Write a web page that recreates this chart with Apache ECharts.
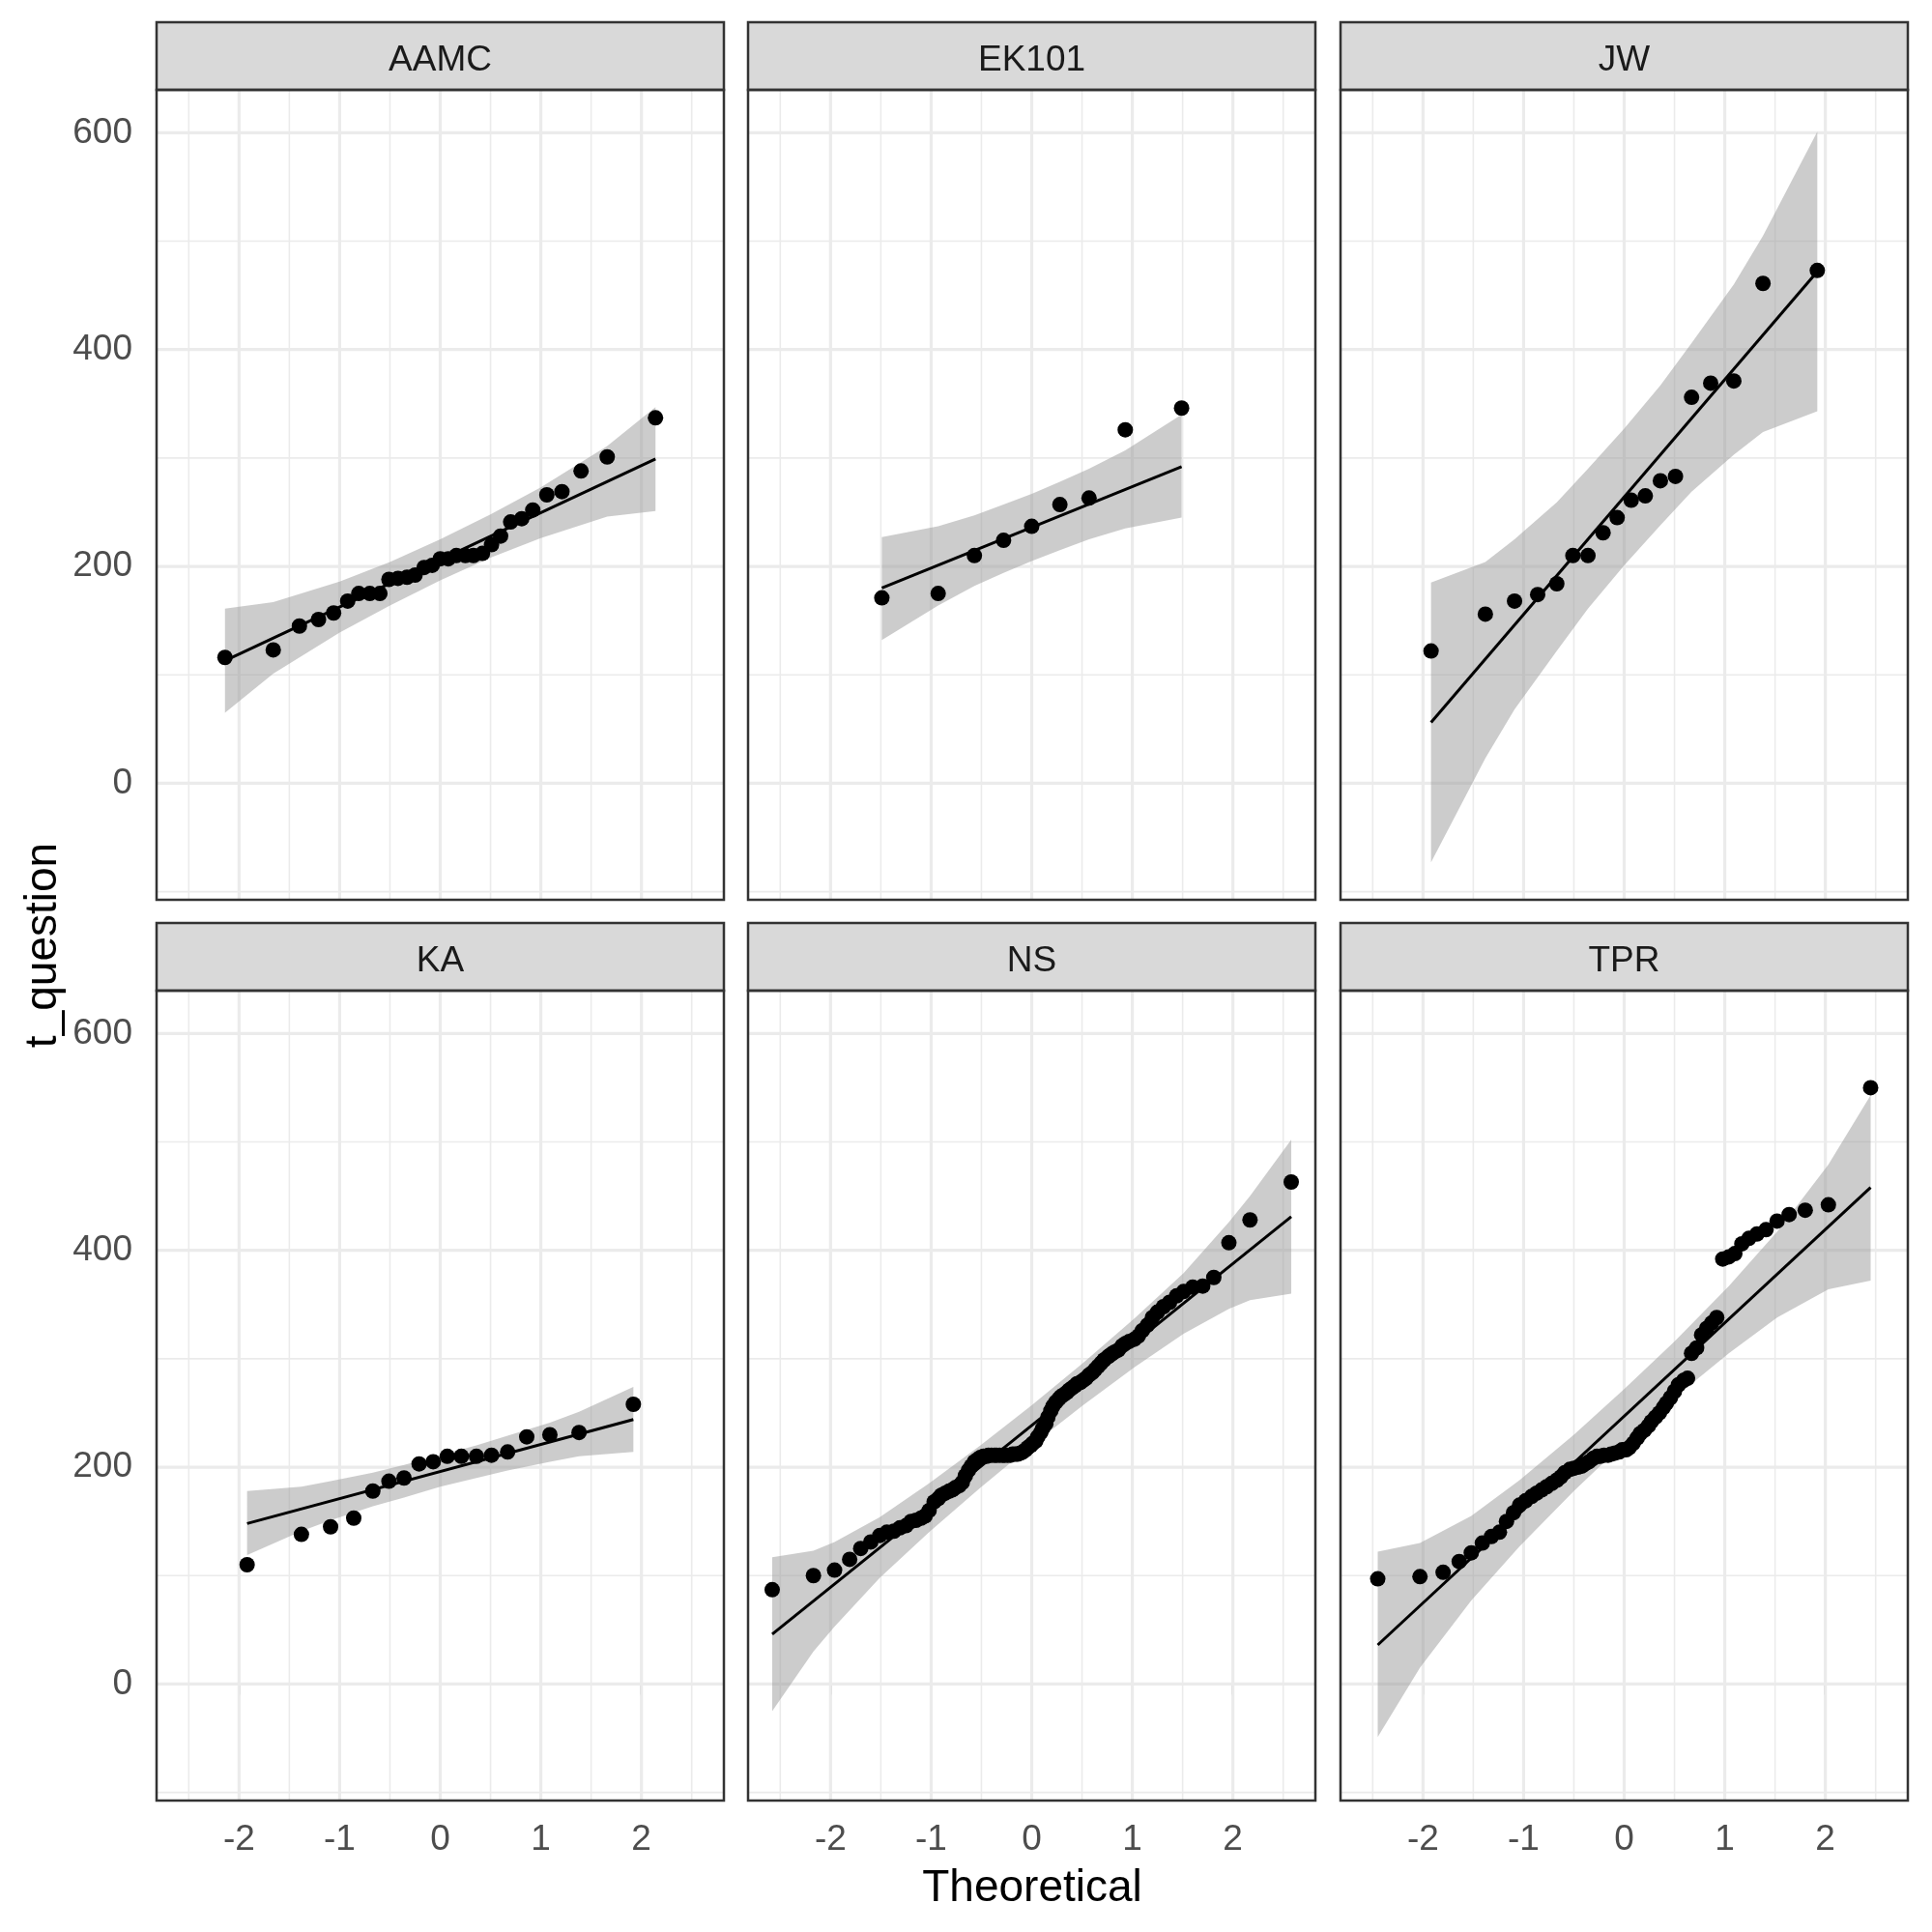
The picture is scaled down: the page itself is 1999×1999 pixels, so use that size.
<!DOCTYPE html>
<html><head><meta charset="utf-8">
<script src="https://cdn.jsdelivr.net/npm/echarts@6/dist/echarts.min.js"></script>
<style>html,body{margin:0;padding:0;background:#fff}#chart{width:1999px;height:1999px}</style>
</head><body><div id="chart"></div>
<script>
// ---------- tick labels ----------
const xMajorTicks = [-2, -1, 0, 1, 2];
const xMinorTicks = [-2.5, -1.5, -0.5, 0.5, 1.5, 2.5];
const yMajorTicks = [0, 200, 400, 600];
const yMinorTicks = [-100, 100, 300, 500];
const panelNames = ['AAMC', 'EK101', 'JW', 'KA', 'NS', 'TPR'];

// ---------- AAMC ----------
const aamcX = [-2.14,-1.66,-1.40,-1.21,-1.06,-0.92,-0.81,-0.70,-0.60,-0.51,-0.42,-0.33,-0.25,-0.16,-0.08,0,0.08,0.16,0.25,0.33,0.42,0.51,0.60,0.70,0.81,0.92,1.06,1.21,1.40,1.66,2.14];
const aamcY = [116,123,145,151,157,168,175,175,175,188,189,190,192,199,201,207,207,210,210,210,212,220,228,241,244,252,266,269,288,301,337];
const aamcLineX = [-2.14, 2.14];
const aamcLineY = [113, 299];
const aamcBandX = [-2.14,-1.66,-1.0,-0.5,0,0.5,1.0,1.66,2.14];
const aamcBandHi = [161,167,186,204,225,248,273,311,347];
const aamcBandLo = [65,101,139,164,187,208,226,246,251];

// ---------- EK101 ----------
const ekX = [-1.49,-0.93,-0.57,-0.28,0,0.28,0.57,0.93,1.49];
const ekY = [171,175,210,224,237,257,263,326,346];
const ekLineX = [-1.49, 1.49];
const ekLineY = [180, 292];
const ekBandX = [-1.49,-0.93,-0.57,-0.28,0,0.28,0.57,0.93,1.49];
const ekBandHi = [227,237,247,257,267,278,290,307,340];
const ekBandLo = [132,164,182,194,205,215,225,235,245];

// ---------- JW ----------
const jwX = [-1.92,-1.38,-1.09,-0.86,-0.67,-0.51,-0.36,-0.21,-0.07,0.07,0.21,0.36,0.51,0.67,0.86,1.09,1.38,1.92];
const jwY = [122,156,168,174,184,210,210,231,245,261,265,279,283,356,369,371,461,473];
const jwLineX = [-1.92, 1.92];
const jwLineY = [56, 472];
const jwBandX = [-1.92,-1.38,-1.09,-0.67,-0.36,0,0.36,0.67,1.09,1.38,1.92];
const jwBandHi = [185,204,225,259,290,327,367,406,460,505,601];
const jwBandLo = [-73,23,68,122,161,201,238,269,303,324,343];

// ---------- KA ----------
const kaX = [-1.92,-1.38,-1.09,-0.86,-0.67,-0.51,-0.36,-0.21,-0.07,0.07,0.21,0.36,0.51,0.67,0.86,1.09,1.38,1.92];
const kaY = [110,138,145,153,178,187,190,203,205,210,210,210,211,214,228,230,232,258];
const kaLineX = [-1.92, 1.92];
const kaLineY = [148, 244];
const kaBandX = [-1.92,-1.38,-1.09,-0.67,-0.36,0,0.36,0.67,1.09,1.38,1.92];
const kaBandHi = [178,182,187,195,202,211,220,229,241,251,274];
const kaBandLo = [119,141,151,164,172,182,190,197,205,210,214];

// ---------- NS ----------
const nsX = [-2.58,-2.17,-1.96,-1.81,-1.70,-1.60,-1.51,-1.44,-1.37,-1.31,-1.25,-1.20,-1.15,-1.10,-1.06,-1.02,-0.97,-0.93,-0.90,-0.86,-0.82,-0.79,-0.76,-0.72,-0.69,-0.66,-0.63,-0.60,-0.57,-0.54,-0.51,-0.48,-0.45,-0.43,-0.40,-0.37,-0.35,-0.32,-0.29,-0.27,-0.24,-0.21,-0.19,-0.16,-0.14,-0.11,-0.09,-0.06,-0.04,-0.01,
  0.01,0.04,0.06,0.09,0.11,0.14,0.16,0.19,0.21,0.24,0.27,0.29,0.32,0.35,0.37,0.40,0.43,0.45,0.48,0.51,0.54,0.57,0.60,0.63,0.66,0.69,0.72,0.76,0.79,0.82,0.86,0.90,0.93,0.97,1.02,1.06,1.10,1.15,1.20,1.25,1.31,1.37,1.44,1.51,1.60,1.70,1.81,1.96,2.17,2.58];
const nsY = [87,100,105,115,125,131,137,140,141,144,146,150,151,153,155,160,168,171,174,176,178,179,181,183,186,192,197,201,205,207,209,210,210,211,211,211,211,211,211,211,211,211,212,212,212,213,214,216,218,220,
  222,224,228,232,236,240,246,252,256,260,263,265,267,269,271,273,275,277,278,280,282,285,287,290,293,296,299,302,304,306,308,312,314,316,318,321,326,331,338,343,348,352,358,362,366,367,375,407,428,463];
const nsLineX = [-2.58, 2.58];
const nsLineY = [46, 431];
const nsBandX = [-2.58,-2.17,-1.96,-1.51,-1.02,-0.51,0,0.51,1.02,1.51,1.96,2.17,2.58];
const nsBandHi = [117,123,131,154,185,220,257,296,337,379,426,450,502];
const nsBandLo = [-25,30,53,98,140,181,220,257,292,323,346,354,360];

// ---------- TPR ----------
const tprX = [-2.45,-2.03,-1.80,-1.64,-1.52,-1.41,-1.32,-1.24,-1.17,-1.10,-1.04,-0.98,-0.92,-0.87,-0.82,-0.77,-0.72,-0.67,-0.63,-0.59,-0.54,-0.50,-0.46,-0.42,-0.39,-0.35,-0.31,-0.27,-0.24,-0.20,-0.16,-0.13,-0.09,-0.05,-0.02,
  0.02,0.05,0.09,0.13,0.16,0.20,0.24,0.27,0.31,0.35,0.39,0.42,0.46,0.50,0.54,0.59,0.63,0.67,0.72,0.77,0.82,0.87,0.92,0.98,1.04,1.10,1.17,1.24,1.32,1.41,1.52,1.64,1.80,2.03,2.45];
const tprY = [97,99,103,113,121,130,136,140,150,158,165,169,173,176,179,182,185,188,191,195,198,199,200,201,203,205,208,210,210,211,211,212,213,214,216,
  216,218,222,227,231,234,238,242,246,250,255,259,264,270,276,280,282,305,310,322,328,333,338,392,394,397,406,411,415,419,427,433,437,442,550];
const tprLineX = [-2.45, 2.45];
const tprLineY = [36, 458];
const tprBandX = [-2.45,-2.03,-1.52,-1.04,-0.50,0,0.50,1.04,1.52,2.03,2.45];
const tprBandHi = [122,130,155,188,230,272,316,367,417,479,543];
const tprBandLo = [-49,15,77,127,178,222,264,305,338,364,372];

// ---------- assembly ----------
const panels = [
  {x: aamcX, y: aamcY, lx: aamcLineX, ly: aamcLineY, bx: aamcBandX, bh: aamcBandHi, bl: aamcBandLo},
  {x: ekX, y: ekY, lx: ekLineX, ly: ekLineY, bx: ekBandX, bh: ekBandHi, bl: ekBandLo},
  {x: jwX, y: jwY, lx: jwLineX, ly: jwLineY, bx: jwBandX, bh: jwBandHi, bl: jwBandLo},
  {x: kaX, y: kaY, lx: kaLineX, ly: kaLineY, bx: kaBandX, bh: kaBandHi, bl: kaBandLo},
  {x: nsX, y: nsY, lx: nsLineX, ly: nsLineY, bx: nsBandX, bh: nsBandHi, bl: nsBandLo},
  {x: tprX, y: tprY, lx: tprLineX, ly: tprLineY, bx: tprBandX, bh: tprBandHi, bl: tprBandLo}
];

const X_MIN = -2.82, X_MAX = 2.82, Y_MIN = -107.5, Y_MAX = 639.5;
const FONT = '"Liberation Sans", Arial, Helvetica, sans-serif';
const colLeft = [162, 774, 1387];
const rowTop = [93, 1025];
const W = 587, H = 838, STRIP = 70;

const gridItems = [].concat(
  xMinorTicks.map(v => [v, 0, 1]), yMinorTicks.map(v => [v, 0, 0]),
  xMajorTicks.map(v => [v, 1, 1]), yMajorTicks.map(v => [v, 1, 0]));

function gridRender(params, api) {
  const v = api.value(0), major = api.value(1), vert = api.value(2);
  let p1, p2;
  if (vert) { p1 = api.coord([v, Y_MIN]); p2 = api.coord([v, Y_MAX]); }
  else { p1 = api.coord([X_MIN, v]); p2 = api.coord([X_MAX, v]); }
  return {type: 'line', shape: {x1: p1[0], y1: p1[1], x2: p2[0], y2: p2[1]},
          style: {stroke: '#EBEBEB', lineWidth: major ? 3.2 : 1.6}};
}
function bandRender(p) {
  return function (params, api) {
    const pts = [];
    for (let i = 0; i < p.bx.length; i++) pts.push(api.coord([p.bx[i], p.bh[i]]));
    for (let i = p.bx.length - 1; i >= 0; i--) pts.push(api.coord([p.bx[i], p.bl[i]]));
    return {type: 'polygon', shape: {points: pts}, style: {fill: 'rgba(153,153,153,0.5)'}};
  };
}

const grids = [], xAxes = [], yAxes = [], series = [], graphics = [];
panels.forEach((p, i) => {
  const col = i % 3, row = Math.floor(i / 3);
  grids.push({left: colLeft[col], top: rowTop[row], width: W, height: H, show: true,
              backgroundColor: '#FFFFFF', borderWidth: 0});
  xAxes.push({gridIndex: i, type: 'value', min: X_MIN, max: X_MAX,
    axisLine: {show: false}, splitLine: {show: false},
    axisTick: {show: row === 1, customValues: xMajorTicks, length: 11, lineStyle: {color: '#333333', width: 2.5}},
    axisLabel: {show: row === 1, customValues: xMajorTicks, margin: 22, fontSize: 37, color: '#4D4D4D', fontFamily: FONT}
  });
  yAxes.push({gridIndex: i, type: 'value', min: Y_MIN, max: Y_MAX,
    axisLine: {show: false}, splitLine: {show: false},
    axisTick: {show: col === 0, customValues: yMajorTicks, length: 11, lineStyle: {color: '#333333', width: 2.5}},
    axisLabel: {show: col === 0, customValues: yMajorTicks, margin: 25, fontSize: 37, color: '#4D4D4D', fontFamily: FONT}
  });
  series.push({type: 'custom', xAxisIndex: i, yAxisIndex: i, z: 1, silent: true,
    renderItem: gridRender, data: gridItems, encode: {x: 0, y: 1}});
  series.push({type: 'custom', xAxisIndex: i, yAxisIndex: i, z: 2, silent: true,
    renderItem: bandRender(p), data: [[p.bx[0], p.bl[0]]], encode: {x: 0, y: 1}});
  series.push({type: 'line', xAxisIndex: i, yAxisIndex: i, z: 3, silent: true,
    data: p.lx.map((x, k) => [x, p.ly[k]]), showSymbol: false, symbol: 'none',
    lineStyle: {color: '#000000', width: 3}});
  series.push({type: 'scatter', xAxisIndex: i, yAxisIndex: i, z: 4, silent: true,
    data: p.x.map((x, k) => [x, p.y[k]]), symbol: 'circle', symbolSize: 16,
    itemStyle: {color: '#000000', opacity: 1}});

  const sx = colLeft[col], sy = rowTop[row] - STRIP;
  graphics.push({type: 'rect', z: 100, shape: {x: sx, y: sy, width: W, height: STRIP},
    style: {fill: '#D9D9D9', stroke: '#333333', lineWidth: 2.5}});
  graphics.push({type: 'text', z: 101, x: sx + W / 2, y: sy + STRIP / 2 + 5,
    style: {text: panelNames[i], fontSize: 37, fontFamily: FONT, fill: '#1A1A1A', align: 'center', verticalAlign: 'middle'}});
  graphics.push({type: 'rect', z: 100, shape: {x: sx, y: rowTop[row], width: W, height: H},
    style: {fill: 'none', stroke: '#333333', lineWidth: 2.5}});
});
graphics.push({type: 'text', z: 101, x: 1068, y: 1954,
  style: {text: 'Theoretical', fontSize: 46, fontFamily: FONT, fill: '#000000', align: 'center', verticalAlign: 'middle'}});
graphics.push({type: 'text', z: 101, x: 45, y: 978, rotation: Math.PI / 2,
  style: {text: 't_question', fontSize: 46, fontFamily: FONT, fill: '#000000', align: 'center', verticalAlign: 'middle'}});

const chart = echarts.init(document.getElementById('chart'), null, {renderer: 'canvas'});
chart.setOption({
  backgroundColor: '#FFFFFF',
  animation: false,
  grid: grids, xAxis: xAxes, yAxis: yAxes, series: series, graphic: graphics
});
</script></body></html>
